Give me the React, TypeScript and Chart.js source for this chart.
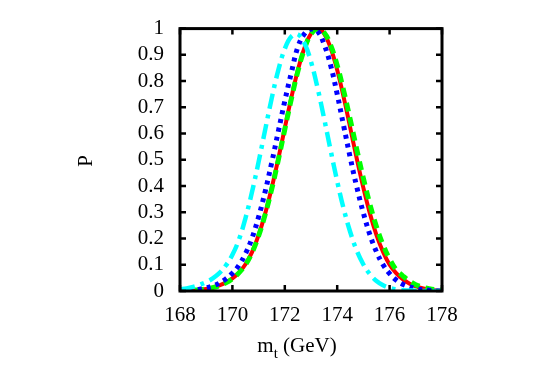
import React, { useEffect, useRef } from "react";
import { Chart, registerables } from "chart.js";

Chart.register(...registerables);

const massGrid: number[] = [
  168, 168.25, 168.5, 168.75, 169, 169.25, 169.5, 169.75, 170, 170.25, 170.5, 170.75,
  171, 171.25, 171.5, 171.75, 172, 172.25, 172.5, 172.75, 173, 173.25, 173.5, 173.75,
  174, 174.25, 174.5, 174.75, 175, 175.25, 175.5, 175.75, 176, 176.25, 176.5, 176.75,
  177, 177.25, 177.5, 177.75, 178,
];

const redSolid: number[] = [
  0.001, 0.002, 0.003, 0.005, 0.008, 0.013, 0.021, 0.032, 0.048, 0.07, 0.102, 0.148,
  0.213, 0.295, 0.393, 0.503, 0.621, 0.737, 0.842, 0.926, 0.981, 1.0, 0.981, 0.926,
  0.842, 0.737, 0.621, 0.503, 0.393, 0.295, 0.213, 0.149, 0.1, 0.068, 0.045, 0.029,
  0.018, 0.011, 0.006, 0.003, 0.001,
];

const greenDashed: number[] = [
  0.001, 0.002, 0.003, 0.005, 0.008, 0.013, 0.02, 0.031, 0.047, 0.069, 0.1, 0.146,
  0.21, 0.291, 0.388, 0.498, 0.616, 0.732, 0.838, 0.923, 0.979, 0.999, 0.985, 0.937,
  0.86, 0.762, 0.652, 0.538, 0.429, 0.33, 0.245, 0.176, 0.122, 0.081, 0.058, 0.038,
  0.024, 0.015, 0.009, 0.005, 0.003,
];

const blueDotted: number[] = [
  0.001, 0.002, 0.004, 0.007, 0.012, 0.019, 0.03, 0.046, 0.068, 0.098, 0.142, 0.202,
  0.282, 0.379, 0.489, 0.607, 0.724, 0.832, 0.93, 0.98, 0.998, 0.99, 0.94, 0.86,
  0.75, 0.628, 0.507, 0.395, 0.297, 0.214, 0.149, 0.1, 0.066, 0.042, 0.026, 0.016,
  0.009, 0.005, 0.003, 0.001, 0,
];

const cyanDashDot: number[] = [
  0.006, 0.01, 0.016, 0.024, 0.034, 0.048, 0.068, 0.097, 0.138, 0.196, 0.278, 0.378,
  0.492, 0.614, 0.734, 0.841, 0.923, 0.97, 0.978, 0.944, 0.874, 0.774, 0.658, 0.536,
  0.418, 0.312, 0.224, 0.153, 0.101, 0.064, 0.038, 0.022, 0.012, 0.006, 0.003, 0.002,
  0.001, 0, 0, 0, 0,
];

const xTickValues: number[] = [168, 170, 172, 174, 176, 178];
const yTickValues: number[] = [0, 0.1, 0.2, 0.3, 0.4, 0.5, 0.6, 0.7, 0.8, 0.9, 1];

const FONT = '"Liberation Serif", "Times New Roman", serif';

const toPoints = (ys: number[]) => massGrid.map((x, i) => ({ x, y: ys[i] }));

const framePlugin = {
  id: "frame",
  afterDatasetsDraw(chart: any) {
    const { ctx, chartArea: a, scales } = chart;
    const xs = scales.x;
    const ys = scales.y;
    ctx.save();
    ctx.strokeStyle = "#000";
    ctx.lineWidth = 2.5;
    const tl = 6;
    ctx.beginPath();
    xTickValues.forEach((v) => {
      const px = xs.getPixelForValue(v);
      ctx.moveTo(px, a.bottom);
      ctx.lineTo(px, a.bottom - tl);
      ctx.moveTo(px, a.top);
      ctx.lineTo(px, a.top + tl);
    });
    yTickValues.forEach((v) => {
      const py = ys.getPixelForValue(v);
      ctx.moveTo(a.left, py);
      ctx.lineTo(a.left + tl, py);
      ctx.moveTo(a.right, py);
      ctx.lineTo(a.right - tl, py);
    });
    ctx.stroke();
    ctx.lineWidth = 3;
    ctx.strokeRect(a.left, a.top, a.right - a.left, a.bottom - a.top);
    ctx.restore();
  },
  afterDraw(chart: any) {
    const { ctx, chartArea: a } = chart;
    ctx.save();
    ctx.fillStyle = "#000";
    // y title
    ctx.font = `21px ${FONT}`;
    ctx.textAlign = "center";
    ctx.textBaseline = "middle";
    ctx.translate(86, (a.top + a.bottom) / 2 + 1);
    ctx.rotate(-Math.PI / 2);
    ctx.fillText("P", 0, 0);
    ctx.restore();

    // x title with subscript
    ctx.save();
    ctx.fillStyle = "#000";
    ctx.textBaseline = "alphabetic";
    ctx.textAlign = "left";
    const big = `21px ${FONT}`;
    const small = `15px ${FONT}`;
    ctx.font = big;
    const wm = ctx.measureText("m").width;
    const wr = ctx.measureText(" (GeV)").width;
    ctx.font = small;
    const wt = ctx.measureText("t").width;
    const total = wm + wt + wr;
    const cx = 297;
    let x = cx - total / 2;
    const base = 352;
    ctx.font = big;
    ctx.fillText("m", x, base);
    x += wm;
    ctx.font = small;
    ctx.fillText("t", x, base + 6);
    x += wt;
    ctx.font = big;
    ctx.fillText(" (GeV)", x, base);
    ctx.restore();
  },
};

export default function App() {
  const ref = useRef<HTMLCanvasElement | null>(null);

  useEffect(() => {
    if (!ref.current) return;
    const chart = new Chart(ref.current, {
      type: "line",
      data: {
        datasets: [
          {
            label: "cyan",
            data: toPoints(cyanDashDot),
            borderColor: "#00ffff",
            borderWidth: 4.5,
            borderDash: [15, 6, 4, 6],
            pointRadius: 0,
            tension: 0.4,
            fill: false,
          },
          {
            label: "blue",
            data: toPoints(blueDotted),
            borderColor: "#0000ff",
            borderWidth: 5,
            borderDash: [4, 5],
            pointRadius: 0,
            tension: 0.4,
            fill: false,
          },
          {
            label: "green",
            data: toPoints(greenDashed),
            borderColor: "#00ff00",
            borderWidth: 5,
            borderDash: [9, 6],
            pointRadius: 0,
            tension: 0.4,
            fill: false,
          },
          {
            label: "red",
            data: toPoints(redSolid),
            borderColor: "#ff0000",
            borderWidth: 4,
            pointRadius: 0,
            tension: 0.4,
            fill: false,
          },
        ],
      },
      options: {
        animation: false,
        responsive: false,
        devicePixelRatio: 1,
        layout: { padding: { left: 0, top: 27, right: 103, bottom: 0 } },
        plugins: {
          legend: { display: false },
          tooltip: { enabled: false },
          title: { display: false },
        },
        scales: {
          x: {
            type: "linear",
            min: 168,
            max: 178,
            afterBuildTicks: (s: any) => {
              s.ticks = xTickValues.map((v) => ({ value: v }));
            },
            afterFit: (s: any) => {
              s.height = 91;
            },
            grid: { display: false, drawTicks: false },
            border: { display: false },
            ticks: {
              color: "#000",
              font: { family: FONT, size: 21 },
              padding: 12,
              maxRotation: 0,
              autoSkip: false,
              callback: (v: any) => String(v),
            },
          },
          y: {
            type: "linear",
            min: 0,
            max: 1,
            afterBuildTicks: (s: any) => {
              s.ticks = yTickValues.map((v) => ({ value: v }));
            },
            afterFit: (s: any) => {
              s.width = 180;
            },
            grid: { display: false, drawTicks: false },
            border: { display: false },
            ticks: {
              color: "#000",
              font: { family: FONT, size: 21 },
              padding: 16,
              autoSkip: false,
              callback: (v: any) => String(Math.round(Number(v) * 10) / 10),
            },
          },
        },
      },
      plugins: [framePlugin],
    });
    return () => chart.destroy();
  }, []);

  return (
    <div style={{ position: "fixed", left: 0, top: 0, width: 545, height: 382, background: "#fff" }}>
      <canvas ref={ref} width={545} height={382} style={{ width: 545, height: 382 }} />
    </div>
  );
}
